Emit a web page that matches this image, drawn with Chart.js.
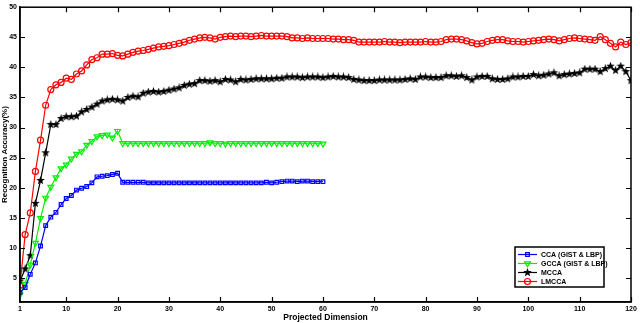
<!DOCTYPE html>
<html>
<head>
<meta charset="utf-8">
<script src="https://cdn.jsdelivr.net/npm/chart.js@4.4.0/dist/chart.umd.min.js"></script>
<style>
  html, body { margin: 0; padding: 0; background: #fff; }
</style>
</head>
<body>
<canvas id="chart" width="640" height="323"></canvas>
<script>
const seriesNames = ["CCA (GIST & LBP)", "GCCA (GIST & LBP)", "MCCA", "LMCCA"];
const seriesColors = ["#0000ff", "#00ee00", "#000000", "#ff0000"];

const cca = [
  2.6, 3.4, 5.6, 7.5, 10.3, 13.7, 15.1, 15.9, 17.2, 18.2,
  18.7, 19.6, 19.9, 20.2, 20.8, 21.8, 21.9, 22.0, 22.2, 22.4,
  20.9, 20.9, 20.9, 20.9, 20.9, 20.8, 20.8, 20.8, 20.8, 20.8,
  20.8, 20.8, 20.8, 20.8, 20.8, 20.8, 20.8, 20.8, 20.8, 20.8,
  20.8, 20.8, 20.8, 20.8, 20.8, 20.8, 20.8, 20.8, 20.9, 20.8,
  20.9, 21.0, 21.1, 21.1, 21.0, 21.1, 21.1, 21.0, 21.0, 21.0
];
const gcca = [
  2.2, 4.0, 7.2, 10.8, 14.9, 18.3, 20.1, 21.7, 23.2, 23.8,
  24.8, 25.6, 26.0, 27.1, 27.7, 28.5, 28.7, 28.8, 28.3, 29.4,
  27.4, 27.4, 27.4, 27.4, 27.4, 27.4, 27.4, 27.4, 27.4, 27.4,
  27.4, 27.4, 27.4, 27.4, 27.4, 27.4, 27.4, 27.5, 27.4, 27.4,
  27.3, 27.4, 27.4, 27.4, 27.4, 27.4, 27.4, 27.4, 27.4, 27.4,
  27.4, 27.4, 27.4, 27.4, 27.4, 27.4, 27.4, 27.4, 27.4, 27.3
];
const mcca = [
  4.5, 6.5, 8.7, 17.4, 21.2, 25.8, 30.5, 30.5, 31.5, 31.8,
  31.8, 31.9, 32.6, 33.0, 33.4, 33.9, 34.4, 34.6, 34.7, 34.6,
  34.4, 35.0, 35.2, 35.1, 35.7, 35.9, 36.0, 35.9, 36.0, 36.2,
  36.4, 36.6, 37.0, 37.2, 37.3, 37.8, 37.8, 37.7, 37.8, 37.6,
  38.0, 37.9, 37.6, 38.0, 37.9, 38.0, 38.1, 38.1, 38.1, 38.1,
  38.2, 38.2, 38.4, 38.4, 38.4, 38.3, 38.4, 38.4, 38.4, 38.3,
  38.4, 38.5, 38.4, 38.4, 38.3, 38.0, 37.9, 37.8, 37.8, 37.8,
  37.9, 37.9, 37.9, 37.9, 37.9, 38.0, 38.1, 38.0, 38.4, 38.4,
  38.3, 38.3, 38.3, 38.6, 38.6, 38.5, 38.6, 38.3, 37.9, 38.4,
  38.5, 38.5, 38.1, 38.0, 38.0, 38.1, 38.4, 38.4, 38.5, 38.5,
  38.8, 38.6, 38.7, 38.9, 39.1, 38.6, 38.8, 38.9, 39.0, 39.1,
  39.7, 39.7, 39.7, 39.3, 39.8, 40.2, 39.5, 40.2, 39.3, 37.8
];
const lmcca = [
  3.8, 12.2, 15.8, 22.7, 27.9, 33.7, 36.3, 37.1, 37.5, 38.2,
  38.0, 38.9, 39.4, 40.4, 41.3, 41.6, 42.2, 42.2, 42.3, 42.0,
  41.9, 42.2, 42.5, 42.7, 42.8, 43.0, 43.2, 43.4, 43.5, 43.6,
  43.8, 44.0, 44.2, 44.5, 44.7, 44.9, 45.0, 44.9, 44.7, 45.0,
  45.1, 45.2, 45.1, 45.2, 45.2, 45.1, 45.2, 45.3, 45.2, 45.2,
  45.2, 45.2, 45.1, 44.9, 44.9, 44.8, 44.9, 44.8, 44.8, 44.8,
  44.8, 44.7, 44.7, 44.6, 44.6, 44.5, 44.2, 44.2, 44.2, 44.2,
  44.2, 44.3, 44.2, 44.2, 44.1, 44.2, 44.2, 44.2, 44.2, 44.3,
  44.2, 44.2, 44.3, 44.6, 44.7, 44.7, 44.6, 44.4, 44.1, 43.9,
  44.0, 44.3, 44.5, 44.6, 44.6, 44.4, 44.3, 44.3, 44.2, 44.3,
  44.4, 44.5, 44.6, 44.7, 44.6, 44.4, 44.6, 44.8, 44.9, 44.8,
  44.7, 44.6, 44.5, 45.1, 44.6, 44.0, 43.4, 44.2, 43.8, 44.1
];

const xTicks = [1, 10, 20, 30, 40, 50, 60, 70, 80, 90, 100, 110, 120];
const yTicks = [5, 10, 15, 20, 25, 30, 35, 40, 45, 50];

const fontFamily = "'Liberation Sans', Arial, sans-serif";

// filled pentagram marker like matlab's 'p'
function makeStar(size, color) {
  const c = document.createElement("canvas");
  c.width = size; c.height = size;
  const g = c.getContext("2d");
  const cx = size / 2, cy = size / 2, ro = size / 2, ri = ro * 0.42;
  g.beginPath();
  for (let i = 0; i < 10; i++) {
    const r = i % 2 === 0 ? ro : ri;
    const a = -Math.PI / 2 + i * Math.PI / 5;
    const px = cx + r * Math.cos(a), py = cy + r * Math.sin(a);
    if (i === 0) g.moveTo(px, py); else g.lineTo(px, py);
  }
  g.closePath();
  g.fillStyle = color;
  g.fill();
  return c;
}
const starImg = makeStar(9, "#000");

function toPoints(arr) {
  return arr.map((v, i) => ({ x: i + 1, y: v }));
}

const markers = [
  { pointStyle: "rect", radius: 2.6, rotation: 0 },
  { pointStyle: "triangle", radius: 3.3, rotation: 180 },
  { pointStyle: starImg, radius: 4, rotation: 0 },
  { pointStyle: "circle", radius: 3, rotation: 0 }
];
const values = [cca, gcca, mcca, lmcca];

const datasets = values.map((arr, i) => ({
  label: seriesNames[i],
  data: toPoints(arr),
  borderColor: seriesColors[i],
  backgroundColor: "rgba(0,0,0,0)",
  borderWidth: 1.2,
  pointStyle: markers[i].pointStyle,
  pointRadius: markers[i].radius,
  pointRotation: markers[i].rotation,
  pointBorderWidth: 1.2,
  pointBorderColor: seriesColors[i],
  pointBackgroundColor: "rgba(0,0,0,0)",
  tension: 0
}));

const frameTicks = {
  id: "frameTicks",
  afterDatasetsDraw(chart) {
    const ctx = chart.ctx;
    const a = chart.chartArea;
    const xs = chart.scales.x, ys = chart.scales.y;
    const len = 5;
    ctx.save();
    ctx.strokeStyle = "#000";
    ctx.lineWidth = 1.5;
    ctx.strokeRect(a.left, a.top, a.right - a.left, a.bottom - a.top);
    ctx.lineWidth = 1.2;
    ctx.beginPath();
    xTicks.forEach(t => {
      if (t === 1) return;
      const px = Math.round(xs.getPixelForValue(t)) + 0.5;
      ctx.moveTo(px, a.bottom); ctx.lineTo(px, a.bottom - len);
      ctx.moveTo(px, a.top); ctx.lineTo(px, a.top + len);
    });
    yTicks.forEach(t => {
      const py = Math.round(ys.getPixelForValue(t)) + 0.5;
      ctx.moveTo(a.left, py); ctx.lineTo(a.left + len, py);
      ctx.moveTo(a.right, py); ctx.lineTo(a.right - len, py);
    });
    ctx.stroke();
    ctx.restore();
  }
};

const boxLegend = {
  id: "boxLegend",
  afterDraw(chart) {
    const ctx = chart.ctx;
    const bx = 515, by = 247, bw = 89, bh = 40;
    ctx.save();
    ctx.fillStyle = "#fff";
    ctx.fillRect(bx, by, bw, bh);
    ctx.strokeStyle = "#000";
    ctx.lineWidth = 1.5;
    ctx.strokeRect(bx, by, bw, bh);
    ctx.font = "bold 7px " + fontFamily;
    ctx.textBaseline = "middle";
    chart.data.datasets.forEach((ds, i) => {
      const y = by + 7.5 + i * 9;
      ctx.strokeStyle = ds.borderColor;
      ctx.lineWidth = 1.2;
      ctx.beginPath();
      ctx.moveTo(bx + 3, y); ctx.lineTo(bx + 22, y);
      ctx.stroke();
      ctx.fillStyle = "rgba(0,0,0,0)";
      Chart.helpers.drawPoint(ctx, {
        pointStyle: ds.pointStyle,
        rotation: ds.pointRotation,
        radius: ds.pointRadius,
        borderWidth: 1.2
      }, bx + 12.5, y);
      ctx.fillStyle = "#000";
      ctx.fillText(ds.label, bx + 26, y + 0.5);
    });
    ctx.restore();
  }
};

new Chart(document.getElementById("chart"), {
  type: "line",
  data: { datasets: datasets },
  options: {
    responsive: false,
    animation: false,
    layout: { padding: { top: 4, right: 9, left: 0, bottom: 0 } },
    plugins: {
      legend: { display: false },
      tooltip: { enabled: false }
    },
    scales: {
      x: {
        type: "linear",
        min: 1,
        max: 120,
        afterBuildTicks: (s) => { s.ticks = xTicks.map(v => ({ value: v })); },
        afterFit: (s) => { s.height = 21; },
        grid: { display: true, drawOnChartArea: false, drawTicks: false },
        border: { display: true, color: "#000", width: 1.5 },
        ticks: {
          autoSkip: false,
          maxRotation: 0,
          padding: 3,
          color: "#000",
          font: { family: fontFamily, size: 7, weight: "bold" }
        },
        title: {
          display: true,
          text: "Projected Dimension",
          color: "#000",
          padding: { top: 0, bottom: 0 },
          font: { family: fontFamily, size: 8.5, weight: "bold" }
        }
      },
      y: {
        type: "linear",
        min: 1,
        max: 50,
        afterBuildTicks: (s) => { s.ticks = yTicks.map(v => ({ value: v })); },
        afterFit: (s) => { s.width = 20; },
        grid: { display: true, drawOnChartArea: false, drawTicks: false },
        border: { display: true, color: "#000", width: 1.5 },
        ticks: {
          padding: 3,
          color: "#000",
          font: { family: fontFamily, size: 7, weight: "bold" }
        },
        title: {
          display: true,
          text: "Recognition Accuracy(%)",
          color: "#000",
          padding: { top: 0, bottom: 0 },
          font: { family: fontFamily, size: 8, weight: "bold" }
        }
      }
    }
  },
  plugins: [frameTicks, boxLegend]
});
</script>
</body>
</html>
